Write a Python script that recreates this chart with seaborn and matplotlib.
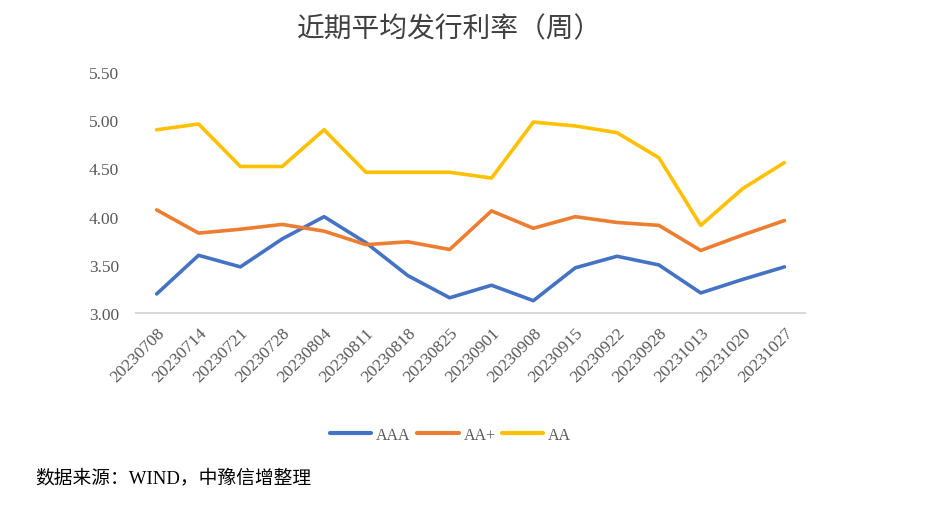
import pandas as pd
import matplotlib.pyplot as plt
import seaborn as sns

sns.set_style("white")
plt.rcParams['font.family'] = ['Liberation Serif', 'Noto Sans CJK SC', 'DejaVu Sans']

# Data
dates = ['20230708', '20230714', '20230721', '20230728', '20230804', '20230811',
         '20230818', '20230825', '20230901', '20230908', '20230915', '20230922',
         '20230928', '20231013', '20231020', '20231027']
aaa = [3.20, 3.60, 3.48, 3.77, 4.00, 3.73, 3.39, 3.16, 3.29, 3.13, 3.47, 3.59,
       3.50, 3.21, 3.35, 3.48]
aa_plus = [4.07, 3.83, 3.87, 3.92, 3.85, 3.71, 3.74, 3.66, 4.06, 3.88, 4.00, 3.94,
           3.91, 3.65, 3.81, 3.96]
aa = [4.90, 4.96, 4.52, 4.52, 4.90, 4.46, 4.46, 4.46, 4.40, 4.98, 4.94, 4.87,
      4.61, 3.91, 4.29, 4.56]
series = ['AAA', 'AA+', 'AA']
colors = ['#4472C4', '#ED7D31', '#FFC000']

df = pd.DataFrame({'date': dates, 'AAA': aaa, 'AA+': aa_plus, 'AA': aa})
long = df.melt(id_vars='date', var_name='grade', value_name='rate')

fig = plt.figure(figsize=(9.3, 5.06), dpi=100)
ax = fig.add_axes([0.146, 0.379, 0.72, 0.477])
sns.lineplot(data=long, x='date', y='rate', hue='grade', hue_order=series,
             palette=colors, linewidth=2.6, sort=False, ax=ax)

ax.set_xlim(-0.5, len(dates) - 0.5)
ax.set_ylim(3.0, 5.5)
ax.set_yticks([3.0, 3.5, 4.0, 4.5, 5.0, 5.5])
ax.set_yticklabels([f'{v:.2f}' for v in ax.get_yticks()])
ax.set_xlabel('')
ax.set_ylabel('')
for s in ['top', 'right', 'left']:
    ax.spines[s].set_visible(False)
ax.spines['bottom'].set_color('#D9D9D9')
ax.spines['bottom'].set_linewidth(1.5)
ax.tick_params(axis='both', length=0, colors='#595959', labelsize=12.5)
ax.tick_params(axis='y', pad=12)
ax.tick_params(axis='x', pad=8)
plt.setp(ax.get_xticklabels(), rotation=45, ha='right', rotation_mode='anchor')

leg = ax.legend(loc='upper center', bbox_to_anchor=(0.47, -0.41), ncol=3,
                frameon=False, fontsize=11.5, handlelength=2.6, handletextpad=0.3,
                columnspacing=0.4)
for t in leg.get_texts():
    t.set_color('#595959')
for h in leg.get_lines():
    h.set_linewidth(3)

fig.text(0.483, 0.94, '近期平均发行利率（周）', ha='center', va='center',
         fontsize=20, color='#404040')
fig.text(0.038, 0.055, '数据来源：WIND，中豫信增整理', ha='left', va='center',
         fontsize=13.5, color='#000000')

fig.savefig('out.png', dpi=100)
